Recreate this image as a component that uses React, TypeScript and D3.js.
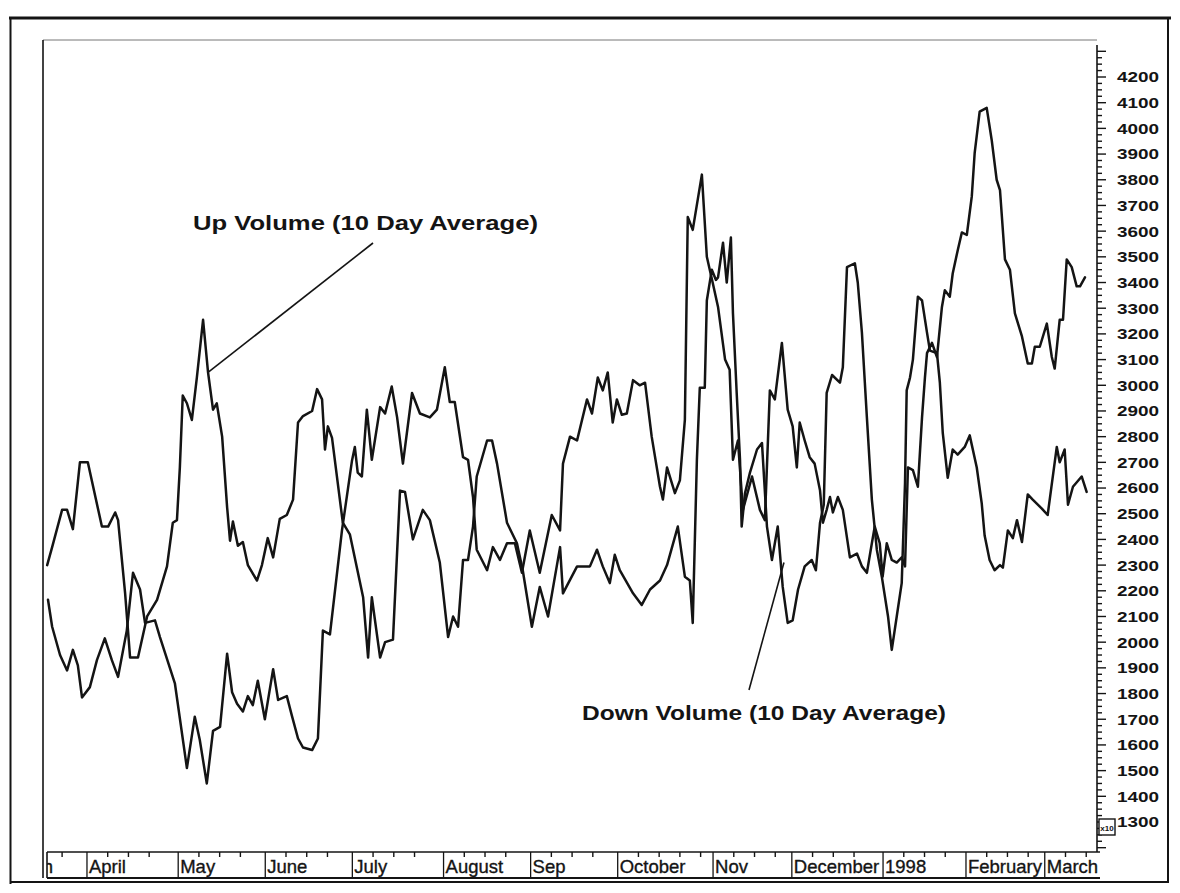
import React from 'react';
import * as d3 from 'd3';

// Trading-day index (0 = first trading day of April 1997) and 10-day average volume
const upDays = [-9.6, -8.4, -6.0, -4.8, -3.4, -1.7, 0.2, 3.6, 5.1, 6.8, 7.5, 9.2, 10.4, 12.3, 14.5, 16.9, 19.3, 20.7, 21.7, 22.4, 23.1, 24.1, 25.3, 26.5, 28.0, 29.2, 30.4, 31.3, 32.6, 33.8, 34.5, 35.2, 36.4, 37.6, 38.8, 41.0, 42.2, 43.6, 44.9, 46.5, 48.2, 49.7, 50.9, 52.1, 54.3, 55.5, 56.7, 57.4, 58.1, 59.1, 61.7, 63.4, 66.6, 67.8, 68.7, 70.7, 71.9, 73.8, 75.5, 76.7, 78.6, 81.0, 82.7, 85.1, 87.1, 88.3, 89.5, 90.7, 91.9, 93.1, 94.0, 96.5, 97.7, 98.9, 101.3, 103.7, 105.1, 107.3, 109.2, 111.2, 114.1, 114.8, 118.2, 121.3, 123.0, 124.4, 126.1, 127.3, 128.5, 131.7, 133.8, 135.8, 138.2, 139.9, 142.5, 144.2, 145.4, 146.1, 147.1, 147.8, 149.0, 149.5, 150.7, 151.7, 152.2, 153.4, 154.3, 155.3, 155.8, 156.7, 157.5, 157.9, 158.7, 159.9, 161.6, 162.8, 164.0, 165.2, 166.6, 167.8, 169.0, 170.2, 171.5, 173.1, 174.8, 175.8, 176.8, 177.7, 178.4, 179.7, 181.6, 182.3, 183.3, 185.2, 185.9, 186.9, 188.1, 189.3, 190.5, 191.7, 193.2, 194.1, 195.3, 196.5, 197.3, 197.7, 198.5, 199.2, 200.4, 201.4, 202.6, 203.3, 205.0, 205.7, 206.4, 207.6, 208.8, 210.0, 211.7, 212.9, 214.6, 215.8, 216.5, 217.7, 218.9, 220.2, 220.9, 222.1, 223.3, 224.3, 225.5, 226.9, 228.1, 230.3, 231.7, 233.9, 234.6, 235.8, 236.6, 237.8, 239.9, 241.1];
const upValues = [2300, 2370, 2515, 2515, 2440, 2700, 2700, 2450, 2450, 2505, 2475, 2190, 1940, 1940, 2100, 2165, 2295, 2465, 2475, 2680, 2960, 2930, 2865, 3030, 3255, 3050, 2905, 2930, 2800, 2525, 2395, 2470, 2375, 2390, 2300, 2240, 2300, 2405, 2330, 2480, 2495, 2555, 2855, 2880, 2900, 2985, 2945, 2750, 2840, 2795, 2465, 2420, 2175, 1940, 2175, 1940, 2000, 2010, 2590, 2585, 2400, 2515, 2475, 2310, 2020, 2100, 2060, 2320, 2320, 2450, 2645, 2785, 2785, 2695, 2465, 2385, 2280, 2060, 2215, 2100, 2370, 2190, 2295, 2295, 2360, 2295, 2230, 2340, 2280, 2190, 2145, 2205, 2240, 2300, 2450, 2255, 2240, 2075, 2710, 2990, 2990, 3330, 3450, 3410, 3420, 3555, 3400, 3575, 3280, 2970, 2710, 2450, 2580, 2660, 2750, 2775, 2450, 2320, 2450, 2215, 2075, 2085, 2205, 2295, 2320, 2280, 2465, 2535, 2970, 3040, 3010, 3070, 3460, 3475, 3400, 3205, 2875, 2555, 2360, 2255, 2100, 1970, 2100, 2230, 2620, 2980, 3030, 3100, 3345, 3330, 3205, 3135, 3125, 3010, 2815, 2640, 2750, 2730, 2760, 2805, 2680, 2540, 2415, 2320, 2280, 2300, 2290, 2435, 2405, 2475, 2390, 2575, 2555, 2520, 2495, 2760, 2700, 2750, 2535, 2605, 2645, 2585];

const downDays = [-9.4, -8.4, -6.5, -4.8, -3.4, -2.2, -1.2, 0.7, 2.4, 4.3, 6.0, 7.5, 9.6, 11.1, 12.8, 14.0, 16.4, 17.6, 21.2, 24.1, 26.0, 27.2, 28.9, 30.4, 32.1, 33.8, 35.0, 36.2, 37.6, 38.8, 40.0, 41.2, 42.9, 44.9, 46.1, 48.2, 49.4, 50.9, 52.1, 54.3, 55.7, 56.9, 58.6, 61.5, 63.9, 64.6, 65.3, 66.3, 67.5, 68.7, 70.7, 71.9, 73.5, 74.8, 76.2, 78.4, 80.3, 82.7, 84.4, 86.3, 87.5, 88.7, 90.7, 91.9, 93.1, 94.0, 96.5, 97.9, 99.6, 101.3, 103.2, 104.9, 106.8, 109.2, 112.1, 114.1, 114.8, 116.5, 118.2, 120.6, 121.8, 123.2, 124.4, 125.6, 126.8, 127.8, 129.0, 130.2, 131.7, 133.3, 134.6, 136.2, 138.2, 138.9, 139.9, 141.8, 143.0, 144.2, 144.9, 146.1, 148.3, 149.5, 150.9, 152.2, 153.9, 155.0, 155.8, 157.0, 158.2, 160.4, 162.3, 163.5, 164.7, 165.9, 167.6, 169.0, 170.2, 171.2, 171.9, 173.1, 174.3, 175.5, 176.8, 177.5, 178.4, 179.2, 179.9, 181.1, 182.3, 184.0, 185.7, 186.9, 188.1, 189.3, 190.0, 191.2, 191.9, 192.9, 194.1, 195.3, 196.5, 197.3, 198.0, 199.2, 200.4, 201.4, 202.1, 202.6, 203.8, 205.0, 206.2, 206.9, 208.1, 208.8, 210.0, 211.0, 212.2, 213.4, 214.1, 215.3, 217.0, 218.2, 219.4, 220.2, 221.4, 222.6, 223.8, 225.5, 226.9, 227.9, 228.6, 229.8, 231.5, 232.7, 233.4, 234.6, 235.4, 236.3, 237.5, 238.7, 239.5, 240.7];
const downValues = [2165, 2060, 1950, 1890, 1970, 1910, 1785, 1825, 1930, 2015, 1930, 1865, 2045, 2270, 2205, 2075, 2085, 2020, 1840, 1510, 1710, 1620, 1450, 1655, 1670, 1955, 1805, 1760, 1730, 1790, 1755, 1850, 1700, 1895, 1775, 1790, 1715, 1625, 1590, 1580, 1625, 2045, 2030, 2435, 2705, 2760, 2660, 2645, 2905, 2710, 2915, 2890, 2995, 2875, 2695, 2970, 2890, 2875, 2905, 3070, 2935, 2935, 2720, 2710, 2565, 2360, 2280, 2370, 2320, 2385, 2385, 2270, 2435, 2270, 2495, 2435, 2695, 2800, 2785, 2945, 2890, 3030, 2980, 3050, 2855, 2945, 2885, 2890, 3020, 3000, 3010, 2800, 2605, 2555, 2680, 2580, 2630, 2865, 3655, 3605, 3820, 3500, 3400, 3305, 3100, 3060, 2710, 2785, 2515, 2645, 2515, 2475, 2980, 2945, 3165, 2905, 2840, 2680, 2855, 2785, 2720, 2695, 2590, 2465, 2515, 2565, 2505, 2565, 2515, 2330, 2345, 2295, 2270, 2385, 2450, 2385, 2255, 2385, 2320, 2310, 2330, 2295, 2680, 2670, 2605, 2875, 3030, 3125, 3165, 3110, 3305, 3370, 3345, 3435, 3525, 3595, 3585, 3735, 3905, 4065, 4080, 3955, 3800, 3760, 3490, 3450, 3280, 3190, 3085, 3085, 3150, 3150, 3240, 3110, 3065, 3255, 3255, 3490, 3460, 3385, 3385, 3420];

const monthLabels = ['March', 'April', 'May', 'June', 'July', 'August', 'Sep', 'October', 'Nov', 'December', '1998', 'February', 'March'];
const monthStarts = [-21, 0, 22, 43, 64, 86, 107, 128, 151, 170, 192, 212, 231];

const yLabelValues = d3.range(1300, 4201, 100);

const upLabel = 'Up Volume (10 Day Average)';
const downLabel = 'Down Volume (10 Day Average)';
const upTarget = { day: 29.2, value: 3050 };
const downTarget = { day: 168.1, value: 2310 };

const FONT = '"Liberation Sans", Arial, Helvetica, sans-serif';
const INK = '#141414';

export default function App() {
  const plot = { left: 43, top: 40, right: 1097, bottom: 852 };
  const strip = { left: 47, right: 1100, top: 852, bottom: 878 };

  const x = d3.scaleLinear().domain([-11.33, 243.6]).range([40, 1097]);
  const y = d3.scaleLinear().domain([1300, 4200]).range([822, 77]);

  const line = d3
    .line<[number, number]>()
    .x((d) => x(d[0]))
    .y((d) => y(d[1]));

  const upPath = line(upDays.map((d, i) => [d, upValues[i]] as [number, number])) || '';
  const downPath = line(downDays.map((d, i) => [d, downValues[i]] as [number, number])) || '';

  const minorTicks = d3.range(1200, 4326, 25).filter((v) => y(v) >= 46 && y(v) <= 848);

  const weekTicks: number[] = [];
  monthStarts.forEach((s, i) => {
    const next = i + 1 < monthStarts.length ? monthStarts[i + 1] : 250;
    for (let k = s + 5; k < next - 2; k += 5) weekTicks.push(k);
  });

  return (
    <svg
      width={1180}
      height={893}
      viewBox="0 0 1180 893"
      style={{ position: 'absolute', left: 0, top: 0, background: '#fff' }}
      fontFamily={FONT}
    >
      <defs>
        <clipPath id="plotClip">
          <rect x={plot.left} y={plot.top} width={plot.right - plot.left} height={plot.bottom - plot.top} />
        </clipPath>
        <clipPath id="stripClip">
          <rect x={strip.left} y={strip.top} width={strip.right - strip.left} height={strip.bottom - strip.top} />
        </clipPath>
      </defs>
      <rect x={0} y={0} width={1180} height={893} fill="#fff" />

      {/* outer frame */}
      <line x1={9} x2={1171} y1={18} y2={18} stroke={INK} strokeWidth={3} />
      <line x1={10.5} x2={10.5} y1={17} y2={884} stroke={INK} strokeWidth={2} />
      <line x1={1168} x2={1168} y1={17} y2={882} stroke={INK} strokeWidth={2} />
      <line x1={10} x2={1169} y1={882} y2={882} stroke={INK} strokeWidth={2} />

      {/* plot frame */}
      <line x1={plot.left} x2={plot.right} y1={plot.top} y2={plot.top} stroke="#777" strokeWidth={1} />
      <line x1={plot.left} x2={plot.left} y1={plot.top} y2={strip.bottom} stroke={INK} strokeWidth={1.6} />
      <line x1={plot.right} x2={plot.right} y1={45} y2={plot.bottom} stroke={INK} strokeWidth={1.6} />

      {/* right axis ticks and labels */}
      {minorTicks.map((v) => (
        <line
          key={'t' + v}
          x1={plot.right}
          x2={plot.right + (v % 100 === 0 ? 9 : 5)}
          y1={y(v)}
          y2={y(v)}
          stroke={INK}
          strokeWidth={1.4}
        />
      ))}
      {yLabelValues.map((v) => (
        <text
          key={'l' + v}
          x={1117}
          y={y(v)}
          dy="0.36em"
          fontSize={15}
          fontWeight="bold"
          fill={INK}
          textLength={42}
          lengthAdjust="spacingAndGlyphs"
        >
          {v}
        </text>
      ))}
      <rect x={1099} y={819} width={16} height={16} fill="#fff" stroke={INK} strokeWidth={1.4} />
      <text x={1107} y={830.5} fontSize={8} fontWeight="bold" textAnchor="middle" fill={INK}>
        x10
      </text>

      {/* bottom date strip */}
      <line x1={strip.left} x2={strip.right} y1={strip.top} y2={strip.top} stroke={INK} strokeWidth={1.6} />
      <line x1={strip.left} x2={strip.right} y1={strip.bottom} y2={strip.bottom} stroke={INK} strokeWidth={1.8} />
      <line x1={strip.left} x2={strip.left} y1={strip.top} y2={strip.bottom} stroke={INK} strokeWidth={1.6} />
      <g clipPath="url(#stripClip)">
        {weekTicks.map((d) => (
          <line key={'w' + d} x1={x(d)} x2={x(d)} y1={strip.top} y2={strip.top + 5} stroke={INK} strokeWidth={1.4} />
        ))}
        {monthStarts.map((d, i) => (
          <line key={'m' + i} x1={x(d)} x2={x(d)} y1={strip.top} y2={strip.bottom} stroke={INK} strokeWidth={1.3} />
        ))}
        {monthLabels.map((m, i) => (
          <text
            key={'ml' + i}
            x={i === 0 ? strip.left + 6 : x(monthStarts[i]) + 2}
            y={873}
            fontSize={18.5}
            textAnchor={i === 0 ? 'end' : 'start'}
            fill={INK}
            stroke={INK}
            strokeWidth={0.35}
          >
            {m}
          </text>
        ))}
      </g>

      {/* series */}
      <g clipPath="url(#plotClip)" fill="none" stroke={INK} strokeWidth={2.5} strokeLinejoin="round" strokeLinecap="round">
        <path d={upPath} />
        <path d={downPath} />
      </g>

      {/* annotations */}
      <line x1={373} y1={243} x2={x(upTarget.day)} y2={y(upTarget.value)} stroke={INK} strokeWidth={1.6} />
      <line x1={749} y1={690} x2={x(downTarget.day)} y2={y(downTarget.value)} stroke={INK} strokeWidth={1.6} />
      <text x={193} y={230} fontSize={21} fontWeight="bold" fill={INK} textLength={345} lengthAdjust="spacingAndGlyphs">
        {upLabel}
      </text>
      <text x={582} y={720} fontSize={21} fontWeight="bold" fill={INK} textLength={364} lengthAdjust="spacingAndGlyphs">
        {downLabel}
      </text>
    </svg>
  );
}
